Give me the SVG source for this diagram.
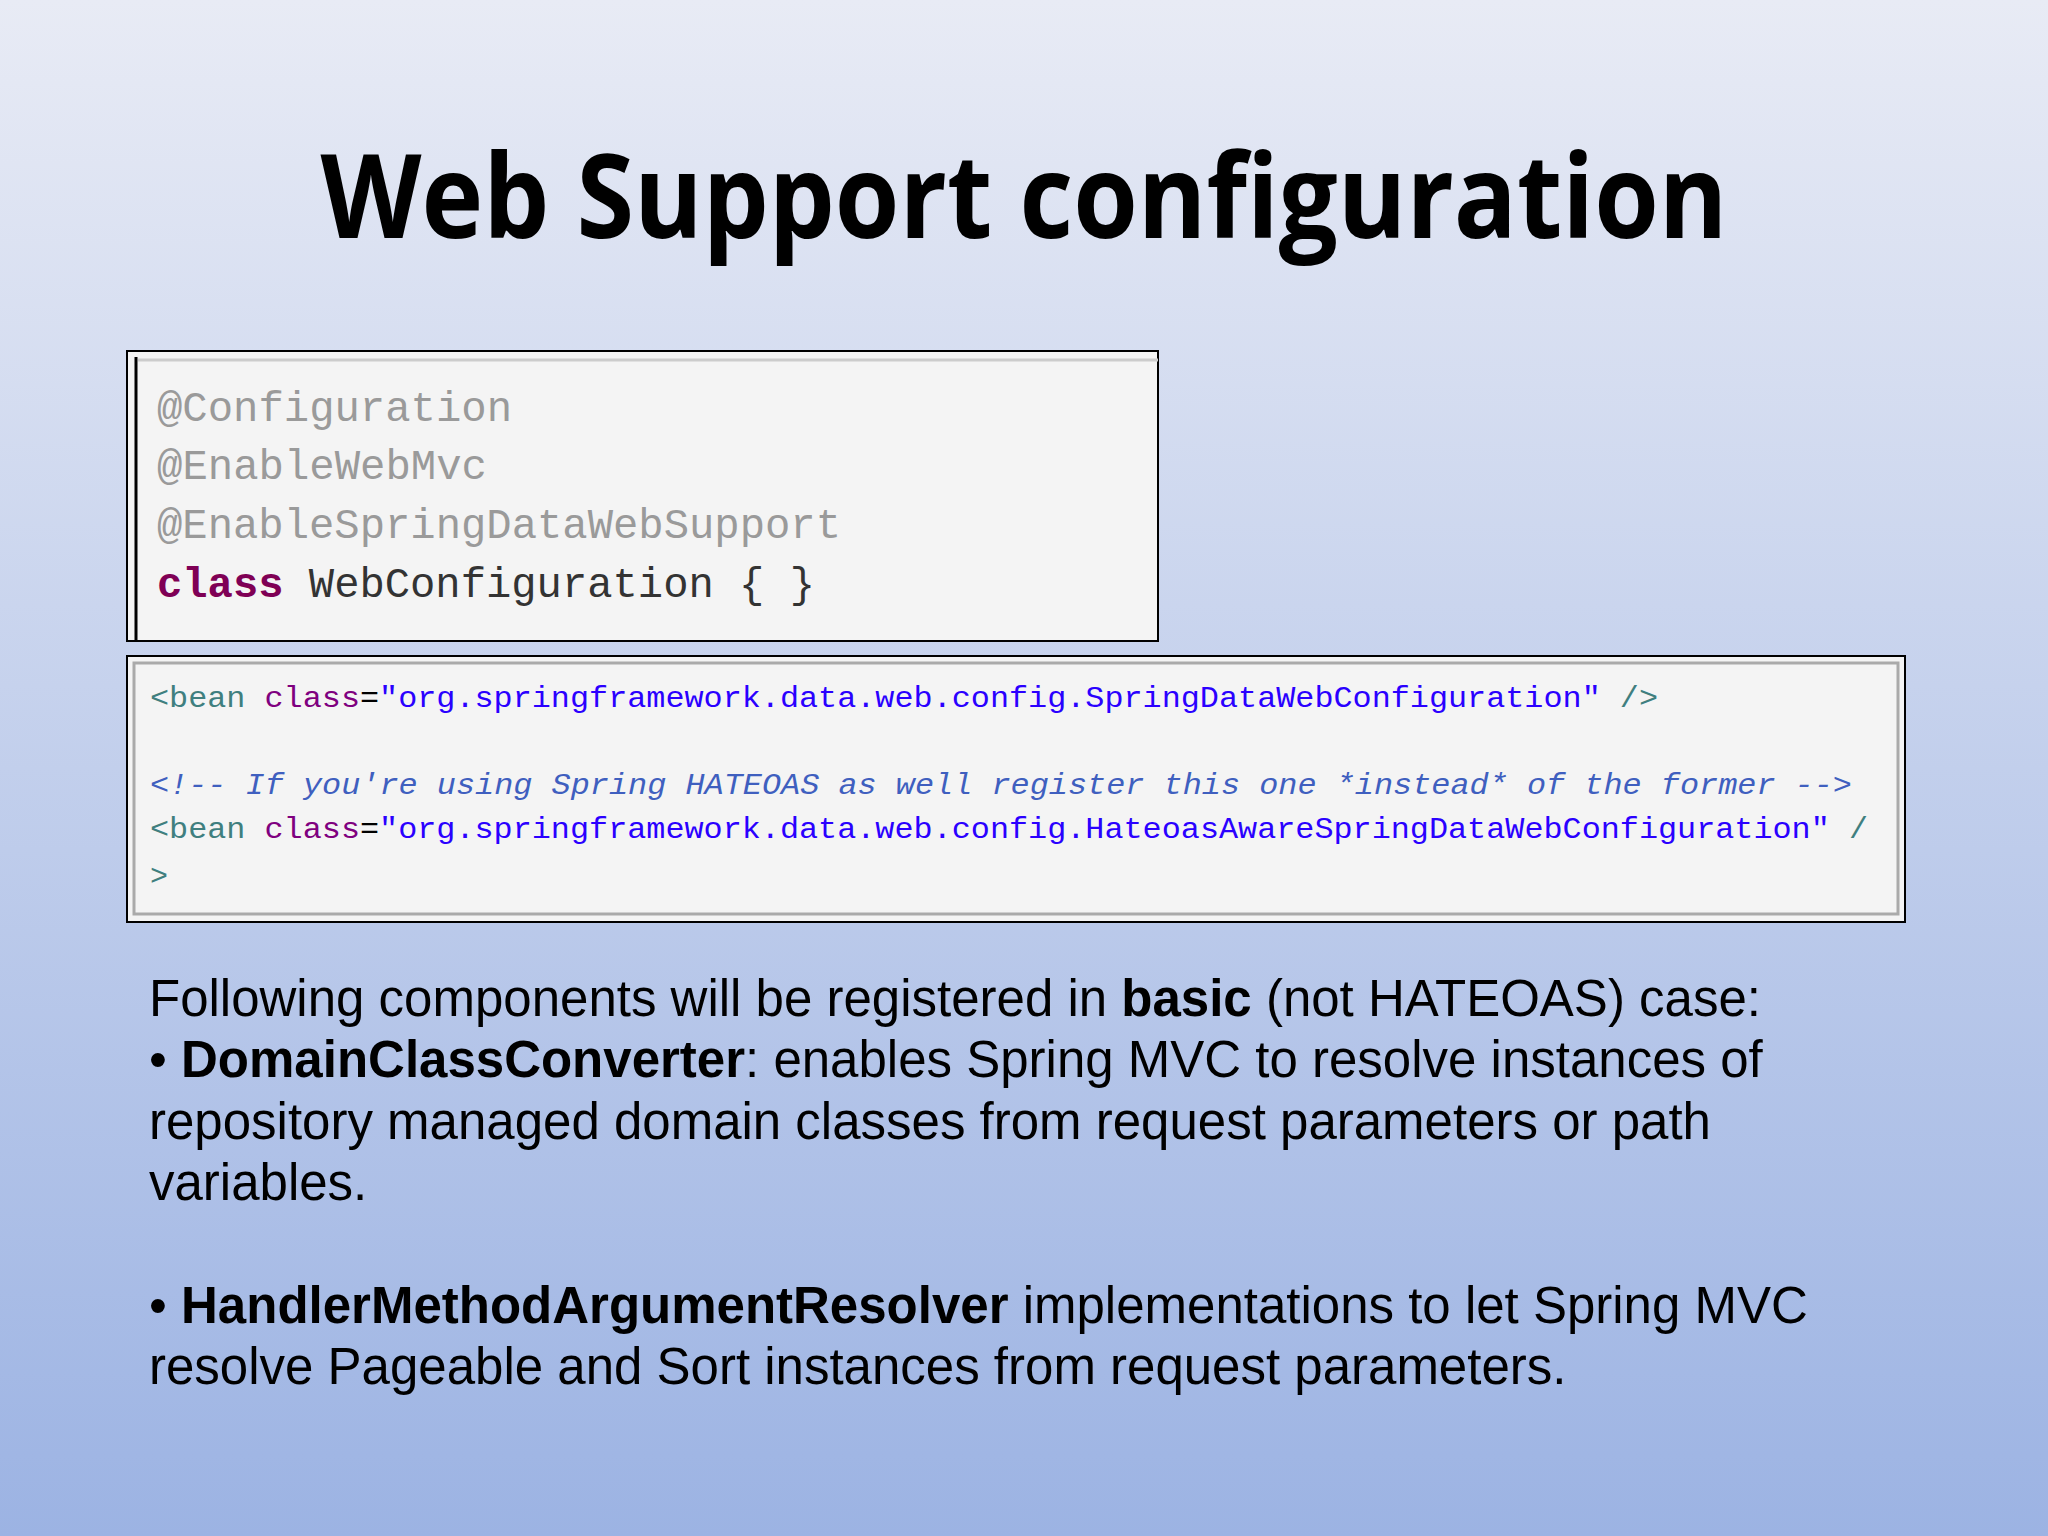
<svg xmlns="http://www.w3.org/2000/svg" width="2048" height="1536" viewBox="0 0 2048 1536">
<defs>
<linearGradient id="bg" x1="0" y1="0" x2="0" y2="1">
<stop offset="0" stop-color="#e8ebf5"/>
<stop offset="1" stop-color="#9cb3e3"/>
</linearGradient>
<style>
.code{font-family:"Liberation Mono",monospace}
.body{font-family:"Liberation Sans",Arial,sans-serif;font-size:51px;fill:#000}
.ann{fill:#9a9a9a}
.tag{fill:#3f7f7f}
.attr{fill:#7f007f}
.str{fill:#2a00ff}
.cmt{fill:#3f5fbf;font-style:italic}
</style>
</defs>
<rect width="2048" height="1536" fill="url(#bg)"/>
<text x="1024" y="238" text-anchor="middle" font-family="Open Sans,sans-serif" font-weight="bold" font-size="116" textLength="1407" lengthAdjust="spacingAndGlyphs">Web Support configuration</text>
<g id="box1">
<rect x="127" y="351" width="1031" height="290" fill="#f4f4f4" stroke="#000" stroke-width="2"/>
<line x1="136" y1="357" x2="136" y2="641" stroke="#000" stroke-width="3"/>
<line x1="138" y1="360" x2="1158" y2="360" stroke="#ccc" stroke-width="3"/>
<g class="code" font-size="42">
<text x="157" y="421" class="ann" textLength="355" lengthAdjust="spacingAndGlyphs">@Configuration</text>
<text x="157" y="479" class="ann" textLength="330" lengthAdjust="spacingAndGlyphs">@EnableWebMvc</text>
<text x="157" y="538" class="ann" textLength="684" lengthAdjust="spacingAndGlyphs">@EnableSpringDataWebSupport</text>
<text x="157" y="597" textLength="658" lengthAdjust="spacingAndGlyphs"><tspan fill="#7f0055" font-weight="bold">class</tspan><tspan fill="#333"> WebConfiguration { }</tspan></text>
</g>
</g>
<g id="box2">
<rect x="127" y="656" width="1778" height="266" fill="#f4f4f4" stroke="#000" stroke-width="2"/>
<rect x="134" y="663" width="1764" height="251" fill="none" stroke="#aaa" stroke-width="3"/>
<g class="code" font-size="30">
<text x="150" y="707" textLength="1508" lengthAdjust="spacingAndGlyphs"><tspan class="tag">&lt;bean </tspan><tspan class="attr">class</tspan><tspan fill="#000">=</tspan><tspan class="str">"org.springframework.data.web.config.SpringDataWebConfiguration"</tspan><tspan class="tag"> /&gt;</tspan></text>
<text x="150" y="794" class="cmt" textLength="1702" lengthAdjust="spacingAndGlyphs">&lt;!-- If you're using Spring HATEOAS as well register this one *instead* of the former --&gt;</text>
<text x="150" y="838" textLength="1718" lengthAdjust="spacingAndGlyphs"><tspan class="tag">&lt;bean </tspan><tspan class="attr">class</tspan><tspan fill="#000">=</tspan><tspan class="str">"org.springframework.data.web.config.HateoasAwareSpringDataWebConfiguration"</tspan><tspan class="tag"> /</tspan></text>
<text x="150" y="885" class="tag">&gt;</text>
</g>
</g>
<g id="body" class="body">
<text x="149" y="1016">Following components will be registered in <tspan font-weight="bold">basic</tspan> (not HATEOAS) case:</text>
<text x="149" y="1077">• <tspan font-weight="bold">DomainClassConverter</tspan>: enables Spring MVC to resolve instances of</text>
<text x="149" y="1139">repository managed domain classes from request parameters or path</text>
<text x="149" y="1200">variables.</text>
<text x="149" y="1323">• <tspan font-weight="bold">HandlerMethodArgumentResolver</tspan> implementations to let Spring MVC</text>
<text x="149" y="1384">resolve Pageable and Sort instances from request parameters.</text>
</g>
</svg>
